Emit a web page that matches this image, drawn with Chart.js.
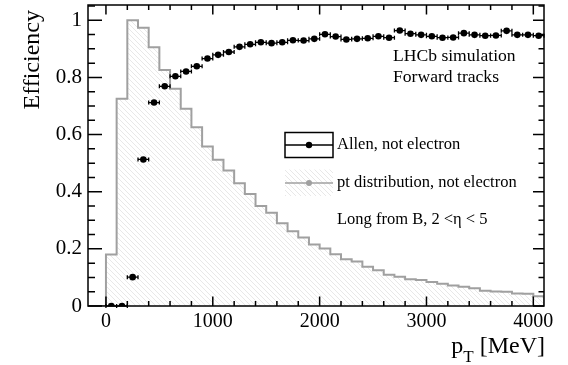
<!DOCTYPE html>
<html><head><meta charset="utf-8">
<script src="https://cdn.jsdelivr.net/npm/chart.js@4/dist/chart.umd.min.js"></script>
<style>html,body{margin:0;padding:0;background:#fff;}canvas{display:block;}</style>
</head><body>
<canvas id="c" width="568" height="365"></canvas>
<script>
// ---- data ----
const ptBinCenters = [50,150,250,350,450,550,650,750,850,950,1050,1150,1250,1350,1450,1550,1650,1750,1850,1950,2050,2150,2250,2350,2450,2550,2650,2750,2850,2950,3050,3150,3250,3350,3450,3550,3650,3750,3850,3950,4050];
const binHalfWidth = 50;
const efficiency = [0.0,0.0,0.101,0.513,0.712,0.769,0.804,0.821,0.839,0.866,0.879,0.889,0.907,0.916,0.923,0.920,0.923,0.930,0.929,0.935,0.951,0.943,0.933,0.935,0.937,0.944,0.939,0.964,0.953,0.949,0.944,0.939,0.940,0.955,0.949,0.946,0.947,0.963,0.949,0.949,0.946];
const ptDistribution = [0.18,0.725,1.0,0.974,0.906,0.826,0.760,0.690,0.626,0.558,0.512,0.474,0.430,0.392,0.350,0.326,0.290,0.262,0.240,0.215,0.201,0.181,0.164,0.156,0.137,0.125,0.109,0.102,0.094,0.091,0.084,0.078,0.072,0.067,0.062,0.053,0.051,0.050,0.044,0.043,0.034];
const xTickLabels = [0,1000,2000,3000,4000];
const yTickLabels = [0,0.2,0.4,0.6,0.8,1];
const xRange = [-168, 4100];
const yRange = [0, 1.0535];
const seriesNames = ['Allen, not electron', 'pt distribution, not electron'];
const infoTexts = ['LHCb simulation', 'Forward tracks'];
const selectionText = 'Long from B, 2 <\u03B7 < 5';

// ---- derived structures ----
const effPoints = ptBinCenters.map((c, i) => ({x: c, y: efficiency[i]}));
const histPoints = [{x: xRange[0], y: 0}];
ptBinCenters.forEach((c, i) => histPoints.push({x: c - binHalfWidth, y: ptDistribution[i]}));
const lastEdge = ptBinCenters[ptBinCenters.length - 1] + binHalfWidth;
histPoints.push({x: lastEdge, y: ptDistribution[ptDistribution.length - 1]});
histPoints.push({x: lastEdge, y: 0});

const SERIF = '"Liberation Serif", "DejaVu Serif", serif';
const HIST_COLOR = '#a0a0a0';

function makeHatch(ctx) {
  const c = document.createElement('canvas');
  c.width = 5; c.height = 5;
  const g = c.getContext('2d');
  g.strokeStyle = '#dedede';
  g.lineWidth = 0.7;
  g.beginPath();
  g.moveTo(-1, -1); g.lineTo(6, 6);
  g.moveTo(-1, 4); g.lineTo(1, 6);
  g.moveTo(4, -1); g.lineTo(6, 1);
  g.stroke();
  return ctx.createPattern(c, 'repeat');
}

const canvas = document.getElementById('c');
const ctx0 = canvas.getContext('2d');
const hatch = makeHatch(ctx0);

const errorBars = {
  id: 'errorBars',
  afterDatasetsDraw(chart) {
    const {ctx, scales: {x, y}} = chart;
    ctx.save();
    ctx.strokeStyle = '#000';
    ctx.lineWidth = 1.3;
    ctx.beginPath();
    effPoints.forEach(p => {
      const x1 = x.getPixelForValue(p.x - binHalfWidth);
      const x2 = x.getPixelForValue(p.x + binHalfWidth);
      const py = y.getPixelForValue(p.y);
      ctx.moveTo(x1, py); ctx.lineTo(x2, py);
      ctx.moveTo(x1, py - 2); ctx.lineTo(x1, py + 2);
      ctx.moveTo(x2, py - 2); ctx.lineTo(x2, py + 2);
    });
    ctx.stroke();
    ctx.restore();
  }
};

const frameTicks = {
  id: 'frameTicks',
  afterDraw(chart) {
    const {ctx, chartArea: a, scales: {x, y}} = chart;
    ctx.save();
    ctx.strokeStyle = '#000';
    ctx.lineWidth = 1.5;
    ctx.strokeRect(a.left, a.top, a.right - a.left, a.bottom - a.top);
    ctx.beginPath();
    const xs = 200;
    for (let i = Math.ceil(x.min / xs); i * xs <= x.max; i++) {
      const v = i * xs;
      const px = x.getPixelForValue(v);
      const major = (i % 5 === 0);
      const Lb = major ? 9.5 : 5;
      ctx.moveTo(px, a.bottom); ctx.lineTo(px, a.bottom - Lb);
      ctx.moveTo(px, a.top); ctx.lineTo(px, a.top + Lb);
    }
    const ys = 0.05;
    for (let i = 0; i * ys <= y.max + 1e-9; i++) {
      const py = y.getPixelForValue(i * ys);
      const major = (i % 4 === 0);
      const Ll = major ? 14 : 7;
      const Lr = major ? 11 : 5.5;
      ctx.moveTo(a.left, py); ctx.lineTo(a.left + Ll, py);
      ctx.moveTo(a.right, py); ctx.lineTo(a.right - Lr, py);
    }
    ctx.stroke();

    // axis titles
    ctx.fillStyle = '#000';
    ctx.save();
    ctx.translate(33, 10);
    ctx.rotate(-Math.PI / 2);
    ctx.font = '24px ' + SERIF;
    ctx.textAlign = 'right';
    ctx.textBaseline = 'middle';
    ctx.fillText('Efficiency', 0, 0);
    ctx.restore();

    // x title: p_T [MeV], right aligned at frame right
    const big = '24px ' + SERIF, small = '17px ' + SERIF;
    ctx.textBaseline = 'alphabetic';
    ctx.textAlign = 'left';
    ctx.font = big; const wp = ctx.measureText('p').width;
    const wr = ctx.measureText(' [MeV]').width;
    ctx.font = small; const wt = ctx.measureText('T').width;
    let sx = a.right + 1 - (wp + wt + wr);
    const base = 353;
    ctx.font = big; ctx.fillText('p', sx, base);
    ctx.font = small; ctx.fillText('T', sx + wp, base + 9);
    ctx.font = big; ctx.fillText(' [MeV]', sx + wp + wt, base);

    // info texts
    ctx.font = '17.6px ' + SERIF;
    ctx.textBaseline = 'middle';
    ctx.fillText(infoTexts[0], 393, 56);
    ctx.fillText(infoTexts[1], 393, 77);

    // legend
    const bx = 285, bw = 48;
    ctx.lineWidth = 1.5;
    ctx.strokeStyle = '#000';
    ctx.strokeRect(bx, 132.5, bw, 25);
    ctx.beginPath(); ctx.moveTo(bx, 145); ctx.lineTo(bx + bw, 145); ctx.stroke();
    ctx.beginPath(); ctx.arc(bx + bw / 2, 145, 3.2, 0, Math.PI * 2); ctx.fillStyle = '#000'; ctx.fill();

    ctx.fillStyle = hatch;
    ctx.fillRect(bx, 169.5, bw, 26.5);
    ctx.strokeStyle = HIST_COLOR; ctx.lineWidth = 1.3;
    ctx.beginPath(); ctx.moveTo(bx, 183); ctx.lineTo(bx + bw, 183); ctx.stroke();
    ctx.beginPath(); ctx.arc(bx + bw / 2, 183, 3, 0, Math.PI * 2); ctx.fillStyle = HIST_COLOR; ctx.fill();

    ctx.fillStyle = '#000';
    ctx.font = '16.5px ' + SERIF;
    ctx.fillText(seriesNames[0], 337, 145);
    ctx.fillText(seriesNames[1], 337, 183);
    ctx.fillText(selectionText, 337, 220);
    ctx.restore();
  }
};

new Chart(canvas, {
  type: 'scatter',
  data: {
    datasets: [
      {
        label: seriesNames[0],
        data: effPoints,
        showLine: false,
        pointRadius: 3.3,
        pointBackgroundColor: '#000',
        pointBorderColor: '#000',
        pointBorderWidth: 0,
        order: 0
      },
      {
        type: 'line',
        label: seriesNames[1],
        data: histPoints,
        stepped: 'before',
        borderColor: HIST_COLOR,
        borderWidth: 2,
        pointRadius: 0,
        fill: 'origin',
        backgroundColor: hatch,
        order: 1
      }
    ]
  },
  options: {
    responsive: false,
    animation: false,
    devicePixelRatio: 1,
    layout: {padding: {top: 5, right: 24, left: 0, bottom: 0}},
    plugins: {legend: {display: false}, tooltip: {enabled: false}},
    scales: {
      x: {
        type: 'linear',
        min: xRange[0], max: xRange[1],
        grid: {display: false, drawTicks: false},
        border: {display: false},
        afterFit(s) { s.height = 59; s.paddingLeft = 0; s.paddingRight = 0; },
        afterBuildTicks(s) { s.ticks = xTickLabels.map(v => ({value: v})); },
        ticks: {
          color: '#000', padding: 4,
          font: {family: SERIF, size: 20},
          maxRotation: 0, autoSkip: false,
          callback: v => String(v)
        }
      },
      y: {
        type: 'linear',
        min: yRange[0], max: yRange[1],
        grid: {display: false, drawTicks: false},
        border: {display: false},
        afterFit(s) { s.width = 88; s.paddingTop = 0; s.paddingBottom = 0; },
        afterBuildTicks(s) { s.ticks = yTickLabels.map(v => ({value: v})); },
        ticks: {
          color: '#000', padding: 6,
          font: {family: SERIF, size: 21},
          autoSkip: false,
          callback: v => String(v)
        }
      }
    }
  },
  plugins: [errorBars, frameTicks]
});
</script>
</body></html>
